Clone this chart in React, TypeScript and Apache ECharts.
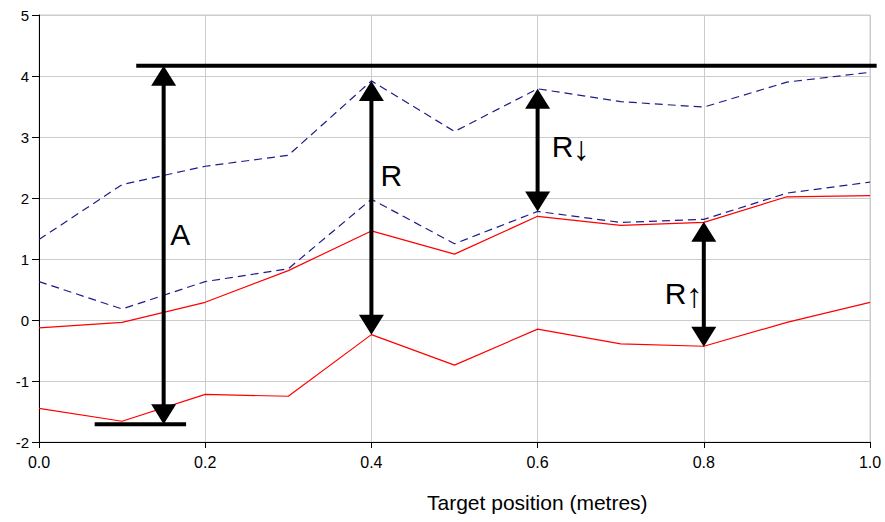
import React, { useEffect, useRef } from "react";
import * as echarts from "echarts";

const xPos = [0, 0.1, 0.2, 0.3, 0.4, 0.5, 0.6, 0.7, 0.8, 0.9, 1.0];
const upperDashed = [1.32, 2.22, 2.52, 2.7, 3.92, 3.09, 3.79, 3.58, 3.49, 3.9, 4.06];
const lowerDashed = [0.63, 0.18, 0.63, 0.84, 1.98, 1.25, 1.78, 1.6, 1.65, 2.08, 2.26];
const upperRed = [-0.13, -0.04, 0.29, 0.81, 1.46, 1.08, 1.7, 1.55, 1.6, 2.02, 2.04];
const lowerRed = [-1.45, -1.66, -1.22, -1.25, -0.24, -0.74, -0.15, -0.39, -0.43, -0.04, 0.29];

const xTicks = [0, 0.2, 0.4, 0.6, 0.8, 1.0];
const yTicks = [-2, -1, 0, 1, 2, 3, 4, 5];

// annotation guides (data units)
const hLineY = [4.17, -1.71];
const hLineX1 = [0.117, 0.067];
const hLineX2 = [1.008, 0.177];

const arrowX = [0.15, 0.4, 0.6, 0.8];
const arrowTop = [4.17, 3.92, 3.79, 1.61];
const arrowBottom = [-1.71, -0.24, 1.78, -0.44];

const labelMain = ["A", "R", "R", "R"];
const labelArrow = ["", "", "\u2193", "\u2191"];
const labelX = [0.158, 0.411, 0.617, 0.753];
const labelY = [1.4, 2.37, 2.84, 0.43];

const xTitle = "Target position (metres)";

const pairs = (ys: number[]) => xPos.map((x, i) => [x, ys[i]]);

export default function App() {
  const ref = useRef<HTMLDivElement>(null);
  useEffect(() => {
    if (!ref.current) return;
    const chart = echarts.init(ref.current, null, { renderer: "svg" });
    const font = "Liberation Sans, Arial, sans-serif";
    const option: any = {
      animation: false,
      backgroundColor: "#ffffff",
      grid: {
        left: 39,
        right: 15,
        top: 15,
        bottom: 80,
        show: true,
        borderColor: "#cccccc",
        borderWidth: 1,
      },
      xAxis: {
        type: "value",
        min: 0,
        max: 1,
        interval: 0.2,
        axisLine: { onZero: false, lineStyle: { color: "#000", width: 1 } },
        axisTick: { show: true, length: 6, lineStyle: { color: "#000" } },
        axisLabel: {
          margin: 12,
          color: "#000",
          fontFamily: font,
          fontSize: 16,
          formatter: (v: number) => v.toFixed(1),
          customValues: xTicks,
        },
        splitLine: { show: true, lineStyle: { color: "#cccccc", width: 1 } },
      },
      yAxis: {
        type: "value",
        min: -2,
        max: 5,
        interval: 1,
        axisLine: { show: true, onZero: false, lineStyle: { color: "#000", width: 1 } },
        axisTick: { show: true, length: 7, lineStyle: { color: "#000" } },
        axisLabel: {
          margin: 10,
          color: "#000",
          fontFamily: font,
          fontSize: 15,
          customValues: yTicks,
        },
        splitLine: { show: true, lineStyle: { color: "#cccccc", width: 1 } },
      },
      graphic: [
        {
          type: "text",
          left: 427,
          top: 492,
          style: {
            text: xTitle,
            fill: "#000",
            font: `21px ${font}`,
          },
        },
      ],
      series: [
        {
          type: "line",
          data: pairs(upperDashed),
          showSymbol: false,
          lineStyle: { color: "#1c1c88", width: 1.2, type: [8, 5] },
          z: 2,
        },
        {
          type: "line",
          data: pairs(lowerDashed),
          showSymbol: false,
          lineStyle: { color: "#1c1c88", width: 1.2, type: [8, 5] },
          z: 2,
        },
        {
          type: "line",
          data: pairs(upperRed),
          showSymbol: false,
          lineStyle: { color: "#ff0000", width: 1.2 },
          z: 3,
        },
        {
          type: "line",
          data: pairs(lowerRed),
          showSymbol: false,
          lineStyle: { color: "#ff0000", width: 1.2 },
          z: 3,
        },
        {
          type: "custom",
          clip: false,
          z: 10,
          data: hLineY.map((y, i) => [hLineX1[i], hLineX2[i], y]),
          renderItem: (params: any, api: any) => {
            const p1 = api.coord([api.value(0), api.value(2)]);
            const p2 = api.coord([api.value(1), api.value(2)]);
            return {
              type: "line",
              shape: { x1: p1[0], y1: p1[1], x2: p2[0], y2: p2[1] },
              style: { stroke: "#000", lineWidth: 4 },
            };
          },
        },
        {
          type: "custom",
          clip: false,
          z: 11,
          data: arrowX.map((x, i) => [x, arrowTop[i], arrowBottom[i]]),
          renderItem: (params: any, api: any) => {
            const t = api.coord([api.value(0), api.value(1)]);
            const b = api.coord([api.value(0), api.value(2)]);
            const hw = 12.5;
            const hh = 20;
            return {
              type: "group",
              children: [
                {
                  type: "line",
                  shape: { x1: t[0], y1: t[1] + hh - 2, x2: b[0], y2: b[1] - hh + 2 },
                  style: { stroke: "#000", lineWidth: 4 },
                },
                {
                  type: "polygon",
                  shape: {
                    points: [
                      [t[0], t[1]],
                      [t[0] - hw, t[1] + hh],
                      [t[0] + hw, t[1] + hh],
                    ],
                  },
                  style: { fill: "#000" },
                },
                {
                  type: "polygon",
                  shape: {
                    points: [
                      [b[0], b[1]],
                      [b[0] - hw, b[1] - hh],
                      [b[0] + hw, b[1] - hh],
                    ],
                  },
                  style: { fill: "#000" },
                },
              ],
            };
          },
        },
        {
          type: "custom",
          clip: false,
          z: 12,
          data: labelMain.map((s, i) => [labelX[i], labelY[i], i]),
          renderItem: (params: any, api: any) => {
            const p = api.coord([api.value(0), api.value(1)]);
            const i = params.dataIndex;
            const children: any[] = [
              {
                type: "text",
                x: p[0],
                y: p[1],
                style: {
                  text: labelMain[i],
                  fill: "#000",
                  font: `30px ${font}`,
                  align: "left",
                  verticalAlign: "middle",
                },
              },
            ];
            if (labelArrow[i]) {
              children.push({
                type: "text",
                x: p[0] + 21,
                y: p[1] + 1,
                style: {
                  text: labelArrow[i],
                  fill: "#000",
                  font: `34px ${font}`,
                  align: "left",
                  verticalAlign: "middle",
                },
              });
            }
            return { type: "group", children };
          },
        },
      ],
    };
    chart.setOption(option);
    return () => chart.dispose();
  }, []);
  return (
    <div
      ref={ref}
      style={{ position: "absolute", left: 0, top: 0, width: 885, height: 522 }}
    />
  );
}
